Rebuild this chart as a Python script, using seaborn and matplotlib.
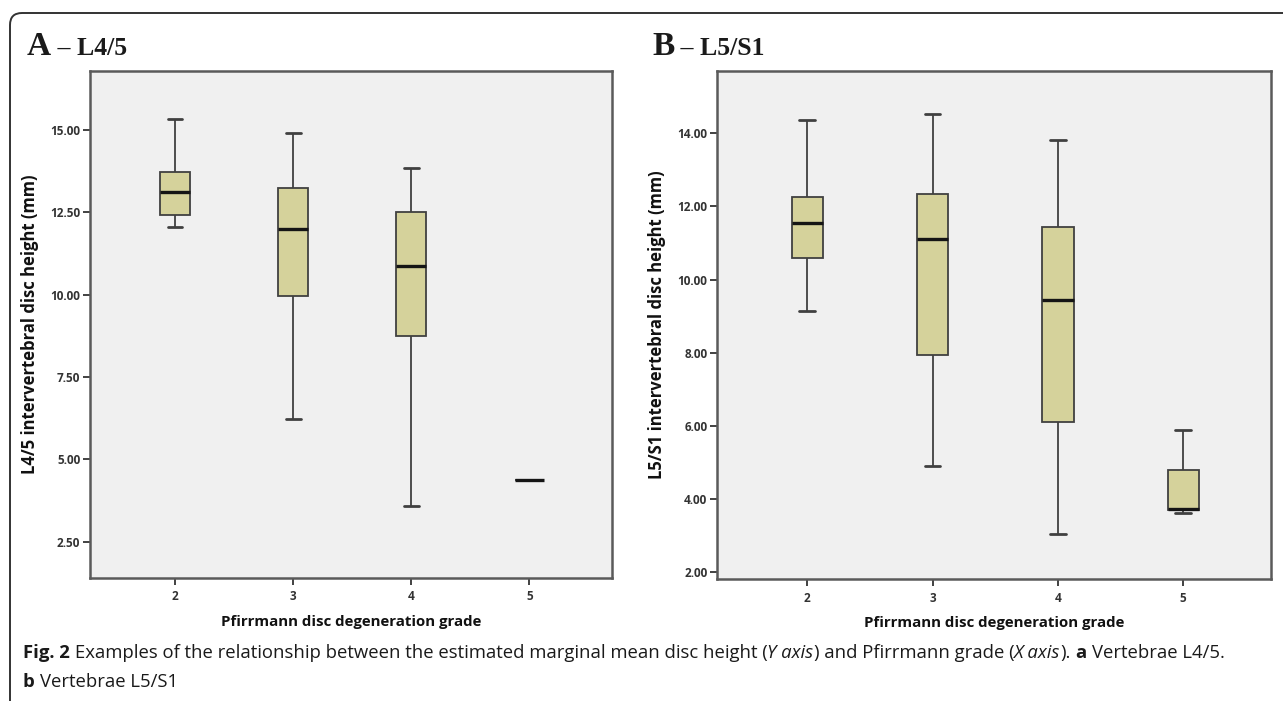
import numpy as np
import pandas as pd
import seaborn as sns
import matplotlib.pyplot as plt
import matplotlib.transforms as mtransforms
from matplotlib.patches import FancyBboxPatch

# Pfirrmann grades on x axis
grades = ["2", "3", "4", "5"]

# panel A - L4/5 disc height (mm): five-number summaries
l45_min = [12.04, 6.22, 3.58, 4.36]
l45_q1 = [12.42, 9.95, 8.73, 4.36]
l45_med = [13.12, 12.00, 10.85, 4.36]
l45_q3 = [13.72, 13.22, 12.50, 4.36]
l45_max = [15.31, 14.89, 13.85, 4.36]

# panel B - L5/S1 disc height (mm)
l51_min = [9.15, 4.90, 3.04, 3.63]
l51_q1 = [10.59, 7.93, 6.12, 3.70]
l51_med = [11.56, 11.11, 9.43, 3.72]
l51_q3 = [12.27, 12.33, 11.45, 4.81]
l51_max = [14.35, 14.52, 13.81, 5.90]

W, H = 1283, 701
fill = "#D5D29B"
edge = "#404040"
font_tick = "Open Sans"


def to_frame(mins, q1s, meds, q3s, maxs):
    rows = []
    for g, a, b, c, d, e in zip(grades, mins, q1s, meds, q3s, maxs):
        for v in (a, b, c, d, e):
            rows.append({"grade": g, "height": v})
    return pd.DataFrame(rows)


def px_axes(fig, l, r, t, b):
    return fig.add_axes([l / W, (H - b) / H, (r - l) / W, (b - t) / H])


def draw_panel(ax, df, ylim, yticks, ylabel, label_x):
    sns.boxplot(data=df, x="grade", y="height", order=grades, ax=ax,
                whis=(0, 100), width=0.25, color=fill, saturation=1,
                linecolor=edge, linewidth=1.3, showfliers=False,
                medianprops=dict(color="#151515", linewidth=2.4),
                capprops=dict(color=edge, linewidth=2.0))
    ax.set_facecolor("#F0F0F0")
    ax.set_xlim(-0.72, 3.70)
    ax.set_ylim(*ylim)
    ax.set_yticks(yticks)
    ax.set_yticklabels(["%.2f" % v for v in yticks])
    ax.tick_params(axis="both", direction="out", length=5, width=1.3,
                   color="#333333", labelsize=8.5, labelcolor="#333333",
                   bottom=True, left=True)
    ax.tick_params(axis="x", pad=4)
    ax.tick_params(axis="y", pad=2)
    for lab in ax.get_xticklabels() + ax.get_yticklabels():
        lab.set_family(font_tick)
        lab.set_fontweight("bold")
    for sp in ax.spines.values():
        sp.set_color("#5a5a5a")
        sp.set_linewidth(1.8)
    ax.set_ylabel(ylabel, fontsize=12, fontweight="bold", family=font_tick, color="#111111")
    ax.yaxis.set_label_coords(label_x, 0.5)
    ax.set_xlabel("Pfirrmann disc degeneration grade", fontsize=10.8, fontweight="bold",
                  family=font_tick, color="#111111", labelpad=8)
    ax.grid(False)


def put_runs(fig, x, y, runs, size, family):
    ident = mtransforms.IdentityTransform()
    renderer = fig.canvas.get_renderer()
    probe = fig.text(0, 0, "a a", fontsize=size, family=family, transform=ident)
    probe2 = fig.text(0, 0, "aa", fontsize=size, family=family, transform=ident)
    space = probe.get_window_extent(renderer).width - probe2.get_window_extent(renderer).width
    probe.remove()
    probe2.remove()
    for s, weight, style, sz, gap in runs:
        t = fig.text(x, H - y, s, fontsize=sz or size, family=family, fontweight=weight,
                     fontstyle=style, va="baseline", ha="left", color="#1a1a1a",
                     transform=ident)
        x += t.get_window_extent(renderer).width + (space if gap else 0)
    return x


sns.set_style("white")
fig = plt.figure(figsize=(W / 100, H / 100), dpi=100)

# outer frame with rounded top-left corner
frame = FancyBboxPatch((10, -40), W + 40, H - 13 + 40,
                       boxstyle="round,pad=0,rounding_size=12",
                       transform=mtransforms.IdentityTransform(),
                       fill=False, edgecolor="#333333", linewidth=1.4, clip_on=False)
fig.add_artist(frame)

ax_a = px_axes(fig, 90, 612, 71, 578)
ax_b = px_axes(fig, 717, 1271, 71, 579)

draw_panel(ax_a, to_frame(l45_min, l45_q1, l45_med, l45_q3, l45_max),
           (1.4, 16.78), [2.5, 5.0, 7.5, 10.0, 12.5, 15.0],
           "L4/5 intervertebral disc height (mm)", -0.098)
draw_panel(ax_b, to_frame(l51_min, l51_q1, l51_med, l51_q3, l51_max),
           (1.82, 15.7), [2.0, 4.0, 6.0, 8.0, 10.0, 12.0, 14.0],
           "L5/S1 intervertebral disc height (mm)", -0.092)

# panel titles
serif = "Liberation Serif"
put_runs(fig, 27, 55, [("A", "bold", "normal", 24, False),
                       (" \u2013 L4/5", "bold", "normal", 18.5, False)], 10, serif)
put_runs(fig, 652, 55, [("B", "bold", "normal", 24, False),
                        (" \u2013 L5/S1", "bold", "normal", 18.5, False)], 10, serif)

# caption
cap = "Open Sans"
put_runs(fig, 23, 658, [
    ("Fig. 2", "bold", "normal", None, True),
    ("Examples of the relationship between the estimated marginal mean disc height (", "normal", "normal", None, False),
    ("Y axis", "normal", "italic", None, False),
    (") and Pfirrmann grade (", "normal", "normal", None, False),
    ("X axis", "normal", "italic", None, False),
    (").", "normal", "normal", None, True),
    ("a", "bold", "normal", None, True),
    ("Vertebrae L4/5.", "normal", "normal", None, False),
], 13.3, cap)
put_runs(fig, 23, 687, [
    ("b", "bold", "normal", None, True),
    ("Vertebrae L5/S1", "normal", "normal", None, False),
], 13.3, cap)

fig.savefig("out.png", dpi=100, facecolor="white")
